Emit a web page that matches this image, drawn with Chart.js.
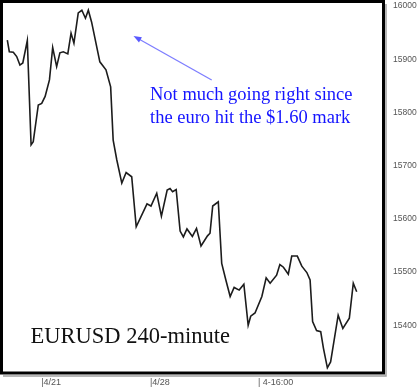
<!DOCTYPE html>
<html><head><meta charset="utf-8">
<script src="https://cdn.jsdelivr.net/npm/chart.js@4.4.0/dist/chart.umd.min.js"></script>
<style>html,body{margin:0;padding:0;background:#fff;overflow:hidden}#wrap{width:420px;height:388px;position:relative}</style>
</head><body><div id="wrap"><canvas id="c" width="420" height="388"></canvas></div>
<script>
// 240-minute bar index (time) and EURUSD price (x 10000)
const barIndex = [1.2,1.75,2.86,3.8,4.7,5.5,6.75,7.8,8.4,9.8,10.75,11.7,12.9,13.8,14.9,15.8,16.75,18,18.9,19.7,20.9,21.9,22.9,23.7,24.6,26.9,28.6,29.9,30.6,31.6,33,34.2,35.75,37,40,41.1,42.7,44,45.6,46.4,47.1,48.1,49.2,50.1,51.1,52.6,53.75,55,56.8,57.5,58.25,59.8,60.75,61.9,63.1,64.2,65.6,66.9,68.1,68.8,70,71.9,73.1,74.2,76,76.9,77.9,79.25,80.2,81.75,83,84.4,85.3,86,87.1,88.25,89,90.1,91,93.1,94.4,96.2,97.3,98.25];
const price = [15936,15914,15913,15905,15889,15893,15935,15739,15745,15814,15817,15830,15861,15922,15886,15912,15914,15910,15949,15930,15987,15992,15977,15992,15970,15895,15880,15848,15748,15711,15667,15687,15679,15585,15628,15624,15648,15605,15654,15657,15651,15655,15577,15566,15581,15567,15582,15549,15568,15573,15624,15632,15516,15485,15454,15471,15466,15477,15400,15417,15423,15454,15489,15479,15494,15514,15509,15496,15530,15530,15511,15499,15485,15407,15390,15388,15357,15320,15331,15419,15394,15413,15479,15463];
const xTickPos = [10.6, 40.8, 70.8];
const xTickLabels = ['|4/21', '|4/28', '| 4-16:00'];
const yTickValues = [16000, 15900, 15800, 15700, 15600, 15500, 15400];
const noteLines = ['Not much going right since', 'the euro hit the $1.60 mark'];
const chartTitle = 'EURUSD 240-minute';

const overlay = {
  id: 'overlay',
  afterDraw(chart) {
    const ctx = chart.ctx, a = chart.chartArea;
    ctx.save();
    // shadow
    ctx.strokeStyle = '#a0a0a0'; ctx.lineWidth = 1.5;
    ctx.beginPath();
    ctx.moveTo(386, 4); ctx.lineTo(386, 376); ctx.lineTo(3, 376);
    ctx.stroke();
    // frame
    ctx.strokeStyle = '#000'; ctx.lineWidth = 3;
    ctx.strokeRect(a.left - 0.5, a.top - 0.5, a.right - a.left, a.bottom - a.top + 0.5);
    // arrow
    const x1 = 211.7, y1 = 80, x2 = 133.5, y2 = 36;
    ctx.strokeStyle = '#7d7dff'; ctx.fillStyle = '#5a5aff'; ctx.lineWidth = 1.3;
    ctx.beginPath(); ctx.moveTo(x1, y1); ctx.lineTo(x2 + 4, y2 + 2.3); ctx.stroke();
    const ang = Math.atan2(y2 - y1, x2 - x1);
    const L = 8, W = 3;
    ctx.beginPath();
    ctx.moveTo(x2, y2);
    ctx.lineTo(x2 - L * Math.cos(ang) + W * Math.sin(ang), y2 - L * Math.sin(ang) - W * Math.cos(ang));
    ctx.lineTo(x2 - L * Math.cos(ang) - W * Math.sin(ang), y2 - L * Math.sin(ang) + W * Math.cos(ang));
    ctx.closePath(); ctx.fill();
    // note
    ctx.fillStyle = '#1414ff';
    ctx.font = '18.5px "Liberation Serif", serif';
    ctx.textAlign = 'left'; ctx.textBaseline = 'alphabetic';
    ctx.fillText(noteLines[0], 150, 100);
    ctx.fillText(noteLines[1], 150, 122.5);
    // title
    ctx.fillStyle = '#111';
    ctx.font = '22.5px "Liberation Serif", serif';
    ctx.fillText(chartTitle, 30.5, 343);
    ctx.restore();
  }
};

new Chart(document.getElementById('c'), {
  type: 'line',
  data: {
    datasets: [{
      data: barIndex.map((x, i) => ({ x: x, y: price[i] })),
      borderColor: '#1c1c1c',
      borderWidth: 1.6,
      pointRadius: 0,
      tension: 0,
      fill: false
    }]
  },
  options: {
    responsive: false,
    animation: false,
    devicePixelRatio: 1,
    layout: { padding: { left: 2, top: 2, right: 0, bottom: 0 } },
    plugins: { legend: { display: false }, tooltip: { enabled: false } },
    scales: {
      x: {
        type: 'linear',
        position: 'bottom',
        min: -0.28, max: 105.83,
        afterBuildTicks: s => { s.ticks = xTickPos.map(v => ({ value: v })); },
        afterFit: s => { s.height = 15; s.paddingLeft = 0; s.paddingRight = 0; },
        grid: { display: false, drawTicks: false },
        border: { display: false },
        ticks: {
          autoSkip: false, maxRotation: 0, align: 'start', padding: 4,
          color: '#555', font: { family: '"Liberation Sans", Arial', size: 9 },
          callback: (v, i) => xTickLabels[i]
        }
      },
      y: {
        type: 'linear',
        position: 'right',
        min: 15310.2, max: 16007.5,
        afterBuildTicks: s => { s.ticks = yTickValues.map(v => ({ value: v })); },
        afterFit: s => { s.width = 36; s.paddingTop = 0; s.paddingBottom = 0; },
        grid: { display: false, drawTicks: false },
        border: { display: false },
        ticks: {
          padding: 9,
          color: '#555', font: { family: '"Liberation Sans", Arial', size: 8.5 },
          callback: v => String(v)
        }
      }
    }
  },
  plugins: [overlay]
});
</script>
</body></html>
